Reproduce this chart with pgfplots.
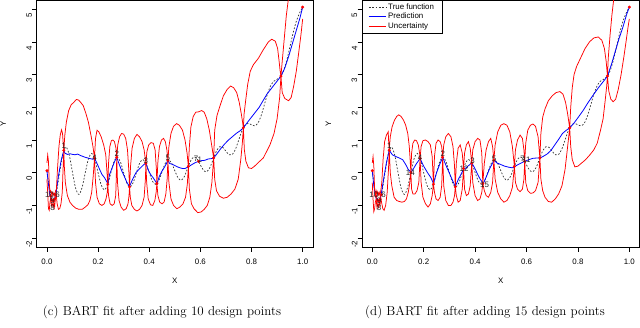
\documentclass[border=0pt]{standalone}
\usepackage{fontspec}
\usepackage{pgfplots}
\usepackage{pgfplotstable}
\pgfplotsset{compat=1.18}
\newfontfamily\rfont{Liberation Sans}
\newcommand{\rsize}{\rfont\fontsize{7.9}{9}\selectfont}

\pgfplotstableread{
x y
0 0.0625
0.0125 -0.622
0.025 -0.868
0.0375 -0.582
0.05 0.026
0.0625 0.585
0.075 0.784
0.0875 0.535
0.1 0.008
0.1125 -0.482
0.125 -0.663
0.1375 -0.453
0.15 0.002
0.1625 0.429
0.175 0.589
0.1875 0.404
0.2 0
0.2125 -0.382
0.225 -0.526
0.2375 -0.363
0.25 0
0.2625 0.345
0.275 0.476
0.2875 0.329
0.3 0
0.3125 -0.314
0.325 -0.434
0.3375 -0.300
0.35 0.002
0.3625 0.291
0.375 0.404
0.3875 0.283
0.4 0.008
0.4125 -0.256
0.425 -0.355
0.4375 -0.237
0.45 0.026
0.4625 0.281
0.475 0.386
0.4875 0.291
0.5 0.0625
0.5125 -0.156
0.525 -0.231
0.5375 -0.115
0.55 0.130
0.5625 0.370
0.575 0.482
0.5875 0.419
0.6 0.240
0.6125 0.071
0.625 0.031
0.6375 0.162
0.65 0.410
0.6625 0.657
0.675 0.792
0.6875 0.775
0.7 0.656
0.7125 0.548
0.725 0.558
0.7375 0.725
0.75 1.0
0.7625 1.278
0.775 1.459
0.7875 1.506
0.8 1.464
0.8125 1.435
0.825 1.516
0.8375 1.743
0.85 2.074
0.8625 2.411
0.875 2.664
0.8875 2.798
0.9 2.856
0.9125 2.930
0.925 3.109
0.9375 3.426
0.95 3.842
0.9625 4.269
0.975 4.625
0.9875 4.876
1 5.0625
}\truefn

\pgfplotsset{
  rstyle/.style={
    scale only axis, height=247.3pt,
    xmin=-0.04, xmax=1.04, ymin=-2.28, ymax=5.28,
    xtick={0,0.2,0.4,0.6,0.8,1.0}, xticklabels={0.0,0.2,0.4,0.6,0.8,1.0},
    ytick={-2,-1,0,1,2,3,4,5}, yticklabels={-2,-1,0,1,2,3,4,5},
    tick align=outside, tick pos=left,
    major tick length=4.5pt,
    tick style={black, line width=0.7pt},
    axis line style={black, line width=0.8pt},
    ticklabel style={font=\rsize, inner sep=0pt},
    xticklabel style={anchor=north, yshift=-7pt},
    yticklabel style={rotate=90, anchor=south, xshift=-6pt},
    xlabel={X}, ylabel={Y},
    label style={font=\rsize},
    xlabel style={at={(axis description cs:0.5,-0.137)}, anchor=center},
    ylabel style={at={(axis description cs:-0.121,0.5)}, anchor=center},
    clip=true,
  },
  truest/.style={black!80, line width=0.7pt, dash pattern=on 1.7pt off 1.7pt},
  predst/.style={blue, line width=0.8pt},
  uncst/.style={red, line width=0.75pt},
  ptst/.style={only marks, mark=*, mark size=1.3pt, red, mark options={draw=red, fill=red}},
  labst/.style={draw=none, mark=none, nodes near coords, point meta=explicit symbolic,
    nodes near coords style={anchor=center, inner sep=0pt, font=\rsize, text=black!85}},
}

\begin{document}
\begin{tikzpicture}
\useasboundingbox (0,0) rectangle (640pt,327pt);

% ---------------- left panel (c) ----------------
\begin{axis}[rstyle, width=276.2pt, at={(36.7pt,79.7pt)}, anchor=south west]
\addplot[truest, smooth] table {\truefn};
\addplot[predst] coordinates {
(0.000,0.06)(0.006,-0.35)(0.012,-0.72)(0.018,-0.82)(0.024,-0.85)(0.030,-0.8)(0.036,-0.6)
(0.045,-0.1)(0.055,0.35)(0.066,0.686)(0.070,0.6)(0.080,0.56)(0.090,0.58)(0.100,0.56)
(0.110,0.55)(0.120,0.57)(0.130,0.53)(0.140,0.5)(0.150,0.47)(0.160,0.45)(0.170,0.43)
(0.180,0.41)(0.186,0.44)(0.195,0.3)(0.205,0.12)(0.215,-0.05)(0.225,-0.15)(0.238,-0.33)
(0.245,-0.05)(0.255,0.15)(0.265,0.35)(0.273,0.47)(0.283,0.25)(0.293,0.05)(0.303,-0.12)
(0.313,-0.3)(0.323,-0.42)(0.335,-0.2)(0.348,0.0)(0.362,0.12)(0.375,0.22)(0.387,0.3)
(0.395,0.1)(0.405,-0.05)(0.415,-0.15)(0.430,-0.33)(0.440,-0.1)(0.450,0.05)(0.462,0.2)
(0.473,0.37)(0.480,0.28)(0.490,0.26)(0.500,0.22)(0.510,0.18)(0.520,0.15)(0.530,0.13)
(0.540,0.13)(0.553,0.18)(0.565,0.24)(0.578,0.3)(0.593,0.35)(0.605,0.37)(0.618,0.38)
(0.630,0.42)(0.642,0.43)(0.652,0.45)(0.665,0.58)(0.680,0.74)(0.695,0.88)(0.710,1.0)
(0.725,1.1)(0.740,1.2)(0.755,1.28)(0.768,1.37)(0.785,1.55)(0.800,1.7)(0.815,1.85)
(0.830,2.0)(0.845,2.2)(0.860,2.4)(0.875,2.55)(0.890,2.7)(0.905,2.85)(0.915,2.95)
(0.930,3.2)(0.945,3.55)(0.960,3.95)(0.975,4.35)(0.990,4.75)(1.000,5.06)};
\addplot[uncst] coordinates {
(0.000,0.30)(0.003,0.54)(0.006,0.35)(0.009,-0.3)(0.012,-0.6)(0.015,-0.55)(0.018,-0.65)
(0.021,-0.6)(0.024,-0.7)(0.027,-0.62)(0.030,-0.7)(0.034,-0.55)(0.037,-0.5)(0.042,0.2)
(0.047,0.8)(0.052,1.15)(0.057,1.31)(0.061,1.2)(0.064,0.85)(0.066,0.69)(0.070,1.15)
(0.076,1.55)(0.085,1.9)(0.095,2.08)(0.105,2.15)(0.115,2.24)(0.124,2.22)(0.132,2.15)
(0.142,2.05)(0.152,1.82)(0.162,1.55)(0.172,1.15)(0.180,0.8)(0.186,0.44)(0.190,1.05)
(0.196,1.3)(0.203,1.25)(0.212,1.1)(0.222,0.85)(0.230,0.55)(0.235,0.0)(0.238,-0.35)
(0.241,0.3)(0.246,0.8)(0.252,0.98)(0.258,1.0)(0.264,0.95)(0.270,0.75)(0.273,0.47)
(0.277,0.85)(0.284,1.1)(0.292,1.2)(0.300,1.18)(0.308,1.05)(0.315,0.7)(0.320,0.1)
(0.323,-0.43)(0.327,0.2)(0.333,0.75)(0.342,1.05)(0.352,1.17)(0.362,1.1)(0.372,0.95)
(0.380,0.7)(0.387,0.29)(0.391,0.65)(0.398,0.85)(0.407,0.92)(0.416,0.9)(0.423,0.7)
(0.428,0.1)(0.430,-0.33)(0.434,0.35)(0.440,0.8)(0.448,1.0)(0.456,1.05)(0.463,0.95)
(0.469,0.7)(0.473,0.38)(0.477,0.8)(0.485,1.2)(0.495,1.42)(0.507,1.5)(0.518,1.45)
(0.530,1.3)(0.540,1.0)(0.548,0.6)(0.553,0.19)(0.557,0.8)(0.563,1.4)(0.572,1.72)
(0.582,1.85)(0.592,1.86)(0.605,1.9)(0.615,1.85)(0.625,1.65)(0.635,1.3)(0.643,0.9)
(0.649,0.6)(0.652,0.45)(0.656,1.3)(0.665,1.75)(0.677,2.05)(0.690,2.35)(0.705,2.55)
(0.718,2.65)(0.730,2.6)(0.742,2.45)(0.752,2.15)(0.760,1.8)(0.765,1.55)(0.768,1.37)
(0.771,1.8)(0.777,2.2)(0.785,2.7)(0.795,3.1)(0.807,3.3)(0.827,3.5)(0.846,3.76)
(0.866,4.0)(0.879,4.08)(0.893,4.02)(0.902,3.8)(0.908,3.4)(0.912,3.1)(0.915,2.95)
(0.920,3.4)(0.928,4.1)(0.936,4.8)(0.944,5.3)(0.952,5.9)};
\addplot[uncst] coordinates {
(0.000,-0.2)(0.003,-0.6)(0.006,-1.1)(0.009,-1.15)(0.012,-0.9)(0.015,-0.75)(0.018,-1.0)
(0.021,-0.95)(0.024,-1.05)(0.027,-0.92)(0.030,-1.05)(0.033,-0.8)(0.036,-0.65)(0.040,-0.95)
(0.045,-1.12)(0.050,-1.1)(0.055,-0.95)(0.060,-0.6)(0.063,0.1)(0.066,0.69)(0.068,0.2)
(0.072,-0.3)(0.080,-0.7)(0.090,-0.9)(0.100,-1.0)(0.112,-1.08)(0.125,-1.12)(0.138,-1.12)
(0.150,-1.05)(0.160,-0.98)(0.168,-0.85)(0.175,-0.6)(0.181,-0.1)(0.186,0.44)(0.190,-0.3)
(0.196,-0.75)(0.205,-0.95)(0.215,-1.0)(0.224,-0.95)(0.231,-0.8)(0.236,-0.6)(0.238,-0.35)
(0.241,-0.7)(0.247,-0.95)(0.255,-1.0)(0.263,-0.95)(0.269,-0.7)(0.271,-0.2)(0.273,0.47)
(0.276,-0.3)(0.282,-0.85)(0.290,-1.05)(0.300,-1.15)(0.310,-1.1)(0.317,-0.95)(0.321,-0.7)
(0.323,-0.43)(0.326,-0.75)(0.332,-1.0)(0.342,-1.12)(0.352,-1.17)(0.362,-1.12)(0.372,-1.0)
(0.380,-0.75)(0.385,-0.2)(0.387,0.29)(0.390,-0.3)(0.396,-0.8)(0.405,-0.98)(0.414,-1.0)
(0.422,-0.85)(0.427,-0.6)(0.430,-0.33)(0.434,-0.7)(0.441,-0.9)(0.450,-0.95)(0.458,-0.9)
(0.465,-0.65)(0.470,-0.2)(0.473,0.38)(0.477,-0.3)(0.485,-0.8)(0.495,-1.0)(0.508,-1.1)
(0.520,-1.05)(0.532,-0.95)(0.542,-0.75)(0.549,-0.35)(0.553,0.19)(0.557,-0.5)(0.565,-0.95)
(0.575,-1.1)(0.590,-1.22)(0.603,-1.2)(0.615,-1.12)(0.627,-1.0)(0.637,-0.75)(0.645,-0.3)
(0.652,0.45)(0.656,-0.2)(0.663,-0.55)(0.675,-0.72)(0.690,-0.78)(0.705,-0.75)(0.720,-0.65)
(0.735,-0.5)(0.748,-0.2)(0.758,0.4)(0.764,0.9)(0.768,1.37)(0.772,0.7)(0.778,0.35)
(0.788,0.15)(0.800,0.13)(0.812,0.2)(0.825,0.3)(0.846,0.45)(0.872,0.85)(0.888,1.2)
(0.900,1.65)(0.910,2.3)(0.915,2.95)(0.920,2.45)(0.930,2.27)(0.945,2.2)(0.955,2.3)
(0.965,2.65)(0.975,3.1)(0.985,3.7)(0.993,4.2)(1.000,4.7)};
\addplot[ptst] coordinates {
(0,0.0625)(0.015,-0.714)(0.02,-0.836)(0.025,-0.868)(0.03,-0.812)(0.035,-0.676)
(0.066,0.686)(0.186,0.442)(0.238,-0.351)(0.273,0.474)(0.323,-0.432)(0.387,0.292)
(0.43,-0.333)(0.473,0.383)(0.553,0.193)(0.593,0.348)(0.652,0.453)(0.768,1.374)
(0.915,2.955)(1,5.0625)};
\addplot[labst] table[meta=lab] {
x y lab
0.066 0.82 1
0.186 0.47 4
0.273 0.58 2
0.387 0.38 3
0.473 0.45 5
0.583 0.43 7
0.598 0.41 1
0.010 -0.67 10
0.042 -0.66 6
0.022 -0.87 9
0.022 -1.07 8
};
\end{axis}

% ---------------- right panel (d) ----------------
\begin{axis}[rstyle, width=277.6pt, at={(362pt,79.7pt)}, anchor=south west,
  legend style={at={(0,1)}, anchor=north west, draw=black, line width=0.7pt,
    font=\rsize, inner xsep=6pt, inner ysep=1.8pt, row sep=0pt,
    nodes={inner ysep=1.3pt, inner xsep=2pt}},
  legend cell align=left]
\addplot[truest, smooth] table {\truefn};
\addlegendentry{True function}
\addplot[predst] coordinates {
(0.000,0.06)(0.006,-0.4)(0.012,-0.7)(0.018,-0.85)(0.024,-0.88)(0.030,-0.82)(0.036,-0.6)
(0.045,-0.15)(0.055,0.3)(0.066,0.686)(0.078,0.55)(0.090,0.5)(0.105,0.45)(0.118,0.4)
(0.130,0.25)(0.140,0.1)(0.150,0.02)(0.160,0.12)(0.172,0.28)(0.186,0.43)(0.200,0.2)
(0.215,0.0)(0.228,-0.15)(0.238,-0.33)(0.250,0.0)(0.262,0.25)(0.274,0.47)(0.288,0.2)
(0.302,-0.05)(0.313,-0.25)(0.323,-0.42)(0.335,-0.2)(0.345,-0.05)(0.355,0.1)(0.365,0.15)
(0.375,0.22)(0.387,0.3)(0.398,0.15)(0.410,-0.05)(0.420,-0.2)(0.432,-0.33)(0.445,-0.1)
(0.455,0.1)(0.465,0.25)(0.474,0.38)(0.485,0.3)(0.500,0.25)(0.515,0.2)(0.530,0.17)
(0.545,0.15)(0.553,0.18)(0.565,0.24)(0.580,0.3)(0.593,0.35)(0.610,0.4)(0.625,0.44)
(0.640,0.45)(0.652,0.45)(0.665,0.5)(0.680,0.57)(0.695,0.68)(0.710,0.85)(0.725,1.02)
(0.740,1.2)(0.755,1.3)(0.768,1.37)(0.785,1.52)(0.800,1.68)(0.820,1.9)(0.840,2.15)
(0.860,2.38)(0.880,2.6)(0.900,2.8)(0.915,2.95)(0.930,3.3)(0.945,3.7)(0.960,4.1)
(0.975,4.45)(0.990,4.85)(1.000,5.06)};
\addlegendentry{Prediction}
\addplot[uncst] coordinates {
(0.000,0.3)(0.003,0.49)(0.006,0.2)(0.009,-0.5)(0.012,-0.7)(0.015,-0.55)(0.018,-0.65)
(0.021,-0.58)(0.024,-0.68)(0.027,-0.6)(0.030,-0.7)(0.034,-0.5)(0.037,-0.3)(0.042,0.4)
(0.048,0.95)(0.055,1.15)(0.062,1.25)(0.064,0.9)(0.066,0.69)(0.070,1.1)(0.077,1.4)
(0.086,1.6)(0.095,1.72)(0.103,1.77)(0.112,1.72)(0.122,1.6)(0.130,1.45)(0.138,1.2)
(0.144,0.8)(0.148,0.3)(0.150,0.02)(0.153,0.6)(0.158,0.9)(0.165,1.0)(0.172,0.98)
(0.179,0.85)(0.184,0.6)(0.186,0.44)(0.190,0.8)(0.197,0.98)(0.207,1.0)(0.217,0.95)
(0.226,0.85)(0.233,0.5)(0.238,-0.35)(0.242,0.5)(0.248,0.9)(0.256,1.0)(0.264,0.95)
(0.270,0.8)(0.274,0.47)(0.278,0.85)(0.286,1.1)(0.296,1.2)(0.306,1.1)(0.314,0.8)
(0.320,0.2)(0.323,-0.43)(0.327,0.3)(0.334,0.75)(0.342,0.85)(0.350,0.6)(0.355,0.13)
(0.359,0.6)(0.366,0.85)(0.374,0.95)(0.381,0.75)(0.387,0.29)(0.391,0.7)(0.400,0.95)
(0.410,1.05)(0.419,1.0)(0.426,0.6)(0.430,-0.33)(0.436,0.3)(0.443,0.7)(0.452,0.95)
(0.461,1.05)(0.468,0.8)(0.473,0.38)(0.478,0.85)(0.488,1.25)(0.500,1.45)(0.512,1.5)
(0.524,1.45)(0.535,1.25)(0.545,0.8)(0.553,0.19)(0.557,0.7)(0.565,1.0)(0.575,1.15)
(0.584,1.05)(0.590,0.7)(0.593,0.35)(0.597,0.9)(0.605,1.3)(0.615,1.45)(0.625,1.49)
(0.635,1.42)(0.645,1.1)(0.652,0.45)(0.656,1.2)(0.663,1.7)(0.672,1.95)(0.685,2.2)
(0.700,2.35)(0.715,2.45)(0.730,2.48)(0.742,2.4)(0.752,2.15)(0.760,1.8)(0.768,1.37)
(0.772,2.0)(0.778,2.6)(0.785,3.0)(0.795,3.25)(0.810,3.5)(0.828,3.8)(0.845,4.0)
(0.862,4.12)(0.879,4.15)(0.893,4.05)(0.903,3.8)(0.910,3.4)(0.915,2.95)(0.918,3.5)
(0.925,4.2)(0.932,4.8)(0.940,5.35)(0.950,6.0)};
\addlegendentry{Uncertainty}
\addplot[uncst, forget plot] coordinates {
(0.000,-0.3)(0.003,-0.8)(0.006,-1.19)(0.009,-1.1)(0.012,-0.9)(0.015,-0.8)(0.018,-1.05)
(0.021,-0.95)(0.024,-1.05)(0.027,-0.9)(0.030,-1.0)(0.033,-0.75)(0.036,-0.9)(0.041,-1.1)
(0.046,-1.15)(0.052,-1.0)(0.058,-0.6)(0.063,0.1)(0.066,0.69)(0.070,0.0)(0.076,-0.4)
(0.085,-0.75)(0.095,-0.85)(0.105,-0.88)(0.115,-0.9)(0.125,-0.88)(0.133,-0.8)(0.140,-0.6)
(0.146,-0.3)(0.150,0.02)(0.153,-0.5)(0.158,-0.65)(0.166,-0.65)(0.174,-0.55)(0.181,-0.3)
(0.186,0.44)(0.190,-0.3)(0.197,-0.75)(0.207,-0.95)(0.217,-1.05)(0.226,-0.95)(0.233,-0.7)
(0.238,-0.35)(0.242,-0.6)(0.248,-0.8)(0.256,-0.85)(0.264,-0.75)(0.270,-0.4)(0.274,0.47)
(0.278,-0.4)(0.286,-0.85)(0.296,-1.0)(0.306,-1.0)(0.314,-0.9)(0.320,-0.7)(0.323,-0.43)
(0.327,-0.7)(0.334,-0.9)(0.342,-0.85)(0.350,-0.5)(0.355,0.13)(0.359,-0.5)(0.366,-0.7)
(0.374,-0.65)(0.381,-0.4)(0.387,0.29)(0.391,-0.3)(0.400,-0.7)(0.410,-0.85)(0.419,-0.8)
(0.426,-0.6)(0.430,-0.33)(0.436,-0.55)(0.443,-0.7)(0.452,-0.75)(0.461,-0.6)(0.468,-0.3)
(0.473,0.38)(0.478,-0.2)(0.488,-0.6)(0.500,-0.8)(0.512,-0.9)(0.524,-0.85)(0.535,-0.7)
(0.545,-0.45)(0.553,0.19)(0.557,-0.3)(0.565,-0.5)(0.575,-0.58)(0.584,-0.5)(0.590,-0.2)
(0.593,0.35)(0.597,-0.3)(0.605,-0.55)(0.615,-0.63)(0.625,-0.62)(0.635,-0.55)(0.645,-0.3)
(0.652,0.45)(0.656,-0.2)(0.663,-0.55)(0.672,-0.75)(0.685,-0.88)(0.698,-0.9)(0.712,-0.8)
(0.725,-0.65)(0.738,-0.4)(0.750,0.1)(0.760,0.8)(0.768,1.37)(0.772,0.8)(0.778,0.4)
(0.788,0.18)(0.800,0.2)(0.815,0.3)(0.830,0.4)(0.847,0.55)(0.862,0.7)(0.875,0.9)
(0.888,1.3)(0.898,1.65)(0.906,2.2)(0.912,2.65)(0.915,2.95)(0.920,2.5)(0.928,2.25)
(0.937,2.17)(0.947,2.25)(0.957,2.55)(0.968,3.0)(0.978,3.5)(0.988,4.05)(0.995,4.45)
(1.000,4.7)};
\addplot[ptst, forget plot] coordinates {
(0,0.0625)(0.015,-0.714)(0.02,-0.836)(0.025,-0.868)(0.03,-0.812)(0.035,-0.676)
(0.066,0.686)(0.15,0.002)(0.186,0.442)(0.238,-0.351)(0.273,0.474)(0.323,-0.432)
(0.355,0.13)(0.387,0.292)(0.43,-0.333)(0.473,0.383)(0.553,0.193)(0.593,0.348)
(0.652,0.453)(0.768,1.374)(0.915,2.955)(1,5.0625)};
\addplot[labst, forget plot] table[meta=lab] {
x y lab
0.066 0.82 1
0.148 0.0 14
0.186 0.47 4
0.274 0.57 2
0.357 0.12 12
0.390 0.37 3
0.437 -0.36 15
0.474 0.44 5
0.585 0.42 7
0.600 0.40 11
0.006 -0.67 10
0.044 -0.66 6
0.026 -0.87 9
0.026 -1.07 8
};
\end{axis}

\node[anchor=base, font=\fontsize{13}{15}\selectfont] at (162pt,11.5pt) {(c) BART fit after adding 10 design points};
\node[anchor=base, font=\fontsize{13}{15}\selectfont] at (485pt,11.5pt) {(d) BART fit after adding 15 design points};
\end{tikzpicture}
\end{document}
